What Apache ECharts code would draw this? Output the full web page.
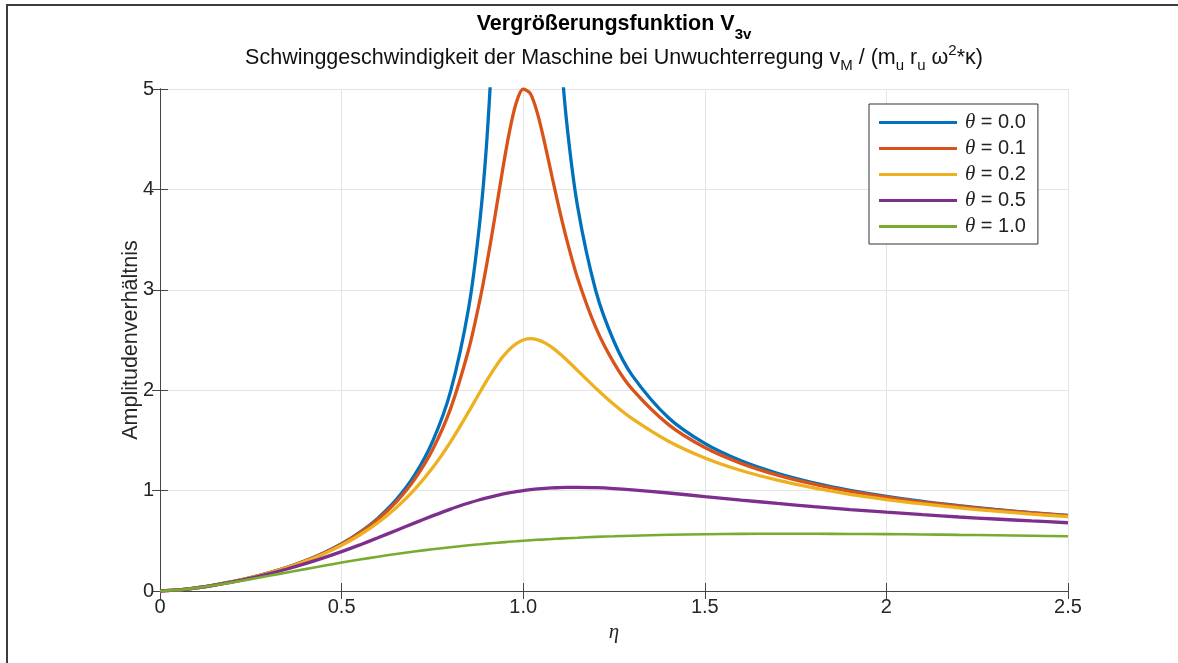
<!DOCTYPE html>
<html>
<head>
<meta charset="utf-8">
<script src="https://cdn.jsdelivr.net/npm/echarts@6/dist/echarts.min.js"></script>
<style>
  html, body { margin: 0; padding: 0; background: #fff; }
  #chart { width: 1178px; height: 663px; }
</style>
</head>
<body>
<div id="chart"></div>
<script>
// eta (frequency ratio) sample points
const eta = [0, 0.05, 0.1, 0.15, 0.2, 0.25, 0.3, 0.35, 0.4, 0.45, 0.5, 0.55, 0.6, 0.65, 0.7, 0.75, 0.8, 0.85,
  0.88, 0.9, 0.92, 0.94, 0.96, 0.98,
  1.0, 1.02, 1.04, 1.06, 1.08, 1.1, 1.12,
  1.15, 1.2, 1.25, 1.3,
  1.4, 1.5, 1.6, 1.7, 1.8, 1.9, 2.0, 2.1, 2.2, 2.3, 2.4, 2.5]

// amplitude ratio per damping value (theta)
const v00 = [0, 0.011, 0.032, 0.059, 0.093, 0.133, 0.181, 0.236, 0.301, 0.379, 0.471, 0.585, 0.726, 0.907, 1.148, 1.485, 1.988, 2.824,
  3.659, 4.494, 5.745, null, null, null,
  null, null, null, null, null, 5.494, 4.659,
  3.824, 2.988, 2.485, 2.148,
  1.726, 1.470, 1.297, 1.173, 1.078, 1.003, 0.943, 0.892, 0.850, 0.813, 0.781, 0.753]
const v01 = [0, 0.011, 0.032, 0.059, 0.093, 0.133, 0.180, 0.235, 0.300, 0.376, 0.467, 0.578, 0.714, 0.885, 1.107, 1.404, 1.816, 2.408,
  2.885, 3.262, 3.682, 4.122, 4.535, 4.852,
  5.0, 4.953, 4.747, 4.447, 4.116, 3.793, 3.497,
  3.113, 2.623, 2.270, 2.010,
  1.657, 1.429, 1.271, 1.154, 1.064, 0.993, 0.935, 0.886, 0.844, 0.808, 0.777, 0.750]
const v02 = [0, 0.011, 0.032, 0.059, 0.093, 0.133, 0.179, 0.233, 0.296, 0.369, 0.456, 0.558, 0.680, 0.828, 1.007, 1.224, 1.486, 1.786,
  1.975, 2.098, 2.213, 2.315, 2.400, 2.462,
  2.5, 2.513, 2.502, 2.471, 2.424, 2.366, 2.301,
  2.195, 2.019, 1.857, 1.716,
  1.491, 1.325, 1.200, 1.104, 1.026, 0.963, 0.911, 0.867, 0.828, 0.795, 0.766, 0.740]
const v05 = [0, 0.011, 0.032, 0.059, 0.091, 0.129, 0.172, 0.219, 0.272, 0.330, 0.392, 0.459, 0.530, 0.603, 0.676, 0.748, 0.816, 0.876,
  0.909, 0.928, 0.946, 0.962, 0.977, 0.989,
  1.0, 1.009, 1.017, 1.023, 1.027, 1.030, 1.032,
  1.033, 1.029, 1.020, 1.007,
  0.976, 0.941, 0.906, 0.872, 0.840, 0.811, 0.785, 0.760, 0.737, 0.717, 0.698, 0.680]
const v10 = [0, 0.011, 0.031, 0.057, 0.086, 0.118, 0.151, 0.185, 0.218, 0.251, 0.283, 0.313, 0.342, 0.368, 0.393, 0.416, 0.436, 0.455,
  0.465, 0.472, 0.478, 0.484, 0.490, 0.495,
  0.5, 0.505, 0.510, 0.514, 0.518, 0.522, 0.526,
  0.531, 0.539, 0.545, 0.551,
  0.560, 0.565, 0.569, 0.570, 0.570, 0.568, 0.566, 0.563, 0.559, 0.555, 0.550, 0.545]

const thetaLabels = ['0.0', '0.1', '0.2', '0.5', '1.0']
const xTickLabels = ['0', '0.5', '1.0', '1.5', '2', '2.5']
const yTickLabels = ['0', '1', '2', '3', '4', '5']

const colors = ['#0072BD', '#D95319', '#EDB120', '#7E2F8E', '#77AC30']
const widths = [3.3, 3.3, 3.3, 3.3, 2.6]
const FONT = '"Liberation Sans", Arial, Helvetica, sans-serif'
const SERIF = '"Liberation Serif", "Times New Roman", serif'
const AXIS = '#454545'

const chart = echarts.init(document.getElementById('chart'))

const seriesValues = [v00, v01, v02, v05, v10]
const series = seriesValues.map((vals, i) => ({
  name: 'θ = ' + thetaLabels[i],
  type: 'line',
  data: eta.map((x, k) => [x, vals[k]]),
  symbol: 'none',
  smooth: 0.3,
  clip: true,
  connectNulls: false,
  color: colors[i],
  lineStyle: { color: colors[i], width: widths[i] },
  xAxisIndex: 0,
  yAxisIndex: 0,
}))

const boxAxis = {
  axisLine: { show: true, lineStyle: { color: AXIS, width: 1 } },
  axisTick: { show: true, inside: true, length: 8, lineStyle: { color: AXIS } },
  axisLabel: { show: false },
  splitLine: { show: false },
}

chart.setOption({
  animation: false,
  backgroundColor: '#fff',
  textStyle: { fontFamily: FONT },
  title: [
    {
      text: '{b|Vergrößerungsfunktion V}{s|3v}',
      left: 614, top: 6, textAlign: 'center', padding: 0,
      textStyle: {
        rich: {
          b: { fontSize: 21.5, fontWeight: 'bold', lineHeight: 36, color: '#000', fontFamily: FONT },
          s: { fontSize: 15, fontWeight: 'bold', lineHeight: 14, verticalAlign: 'bottom', color: '#000', fontFamily: FONT },
        },
      },
    },
    {
      text: '{r|Schwinggeschwindigkeit der Maschine bei Unwuchterregung v}{d|M}{r| / (m}{d|u}{r| r}{d|u}{r| ω}{p|2}{r|*κ)}',
      left: 614, top: 43, textAlign: 'center', padding: 0,
      textStyle: {
        fontWeight: 'normal',
        rich: {
          r: { fontSize: 21.5, fontWeight: 'normal', lineHeight: 30, color: '#111', fontFamily: FONT },
          d: { fontSize: 15, fontWeight: 'normal', lineHeight: 14, verticalAlign: 'bottom', color: '#111', fontFamily: FONT },
          p: { fontSize: 15, fontWeight: 'normal', lineHeight: 14, verticalAlign: 'top', color: '#111', fontFamily: FONT },
        },
      },
    },
  ],
  graphic: [
    { type: 'line', shape: { x1: 6, y1: 5, x2: 1178, y2: 5 }, style: { stroke: '#3c3c3c', lineWidth: 2 } },
    { type: 'line', shape: { x1: 7, y1: 4, x2: 7, y2: 663 }, style: { stroke: '#3c3c3c', lineWidth: 2 } },
  ],
  legend: {
    orient: 'vertical',
    left: 869, top: 104,
    padding: [8, 12, 7, 10],
    itemGap: 5,
    itemWidth: 78,
    itemHeight: 3,
    icon: 'rect',
    backgroundColor: '#fff',
    borderColor: '#333',
    borderWidth: 1,
    borderRadius: 0,
    formatter: name => '{t|θ}{n| = ' + name.split('= ')[1] + '}',
    textStyle: {
      padding: [0, 0, 0, 3],
      rich: {
        t: { fontSize: 21, lineHeight: 20, fontStyle: 'italic', fontFamily: SERIF, color: '#222' },
        n: { fontSize: 20, lineHeight: 20, fontFamily: FONT, color: '#222' },
      },
    },
  },
  grid: { left: 160, right: 110, top: 89, bottom: 72, containLabel: false, show: false },
  xAxis: [
    {
      type: 'value', min: 0, max: 2.5, interval: 0.5, position: 'bottom',
      axisLine: { show: true, lineStyle: { color: AXIS, width: 1 } },
      axisTick: { show: true, inside: true, length: 8, lineStyle: { color: AXIS } },
      axisLabel: {
        fontSize: 20, color: '#262626', margin: 6, fontFamily: FONT,
        formatter: (v, i) => xTickLabels[Math.round(v / 0.5)] ?? String(v),
      },
      splitLine: { show: true, lineStyle: { color: '#e4e4e4', width: 1 } },
      name: 'η', nameLocation: 'middle', nameGap: 30,
      nameTextStyle: { fontSize: 21, fontStyle: 'italic', fontFamily: SERIF, color: '#262626' },
    },
    Object.assign({ type: 'value', min: 0, max: 2.5, interval: 0.5, position: 'top' }, boxAxis),
  ],
  yAxis: [
    {
      type: 'value', min: 0, max: 5, interval: 1, position: 'left',
      axisLine: { show: true, lineStyle: { color: AXIS, width: 1 } },
      axisTick: { show: true, inside: true, length: 8, lineStyle: { color: AXIS } },
      axisLabel: {
        fontSize: 20, color: '#262626', margin: 6, fontFamily: FONT,
        formatter: (v, i) => yTickLabels[Math.round(v)] ?? String(v),
      },
      splitLine: { show: true, lineStyle: { color: '#e4e4e4', width: 1 } },
      name: 'Amplitudenverhältnis', nameLocation: 'middle', nameGap: 18,
      nameMoveOverlap: false,
      nameTextStyle: { fontSize: 21.5, fontFamily: FONT, color: '#262626' },
    },
    Object.assign({ type: 'value', min: 0, max: 5, interval: 1, position: 'right' }, boxAxis),
  ],
  series,
})
</script>
</body>
</html>
